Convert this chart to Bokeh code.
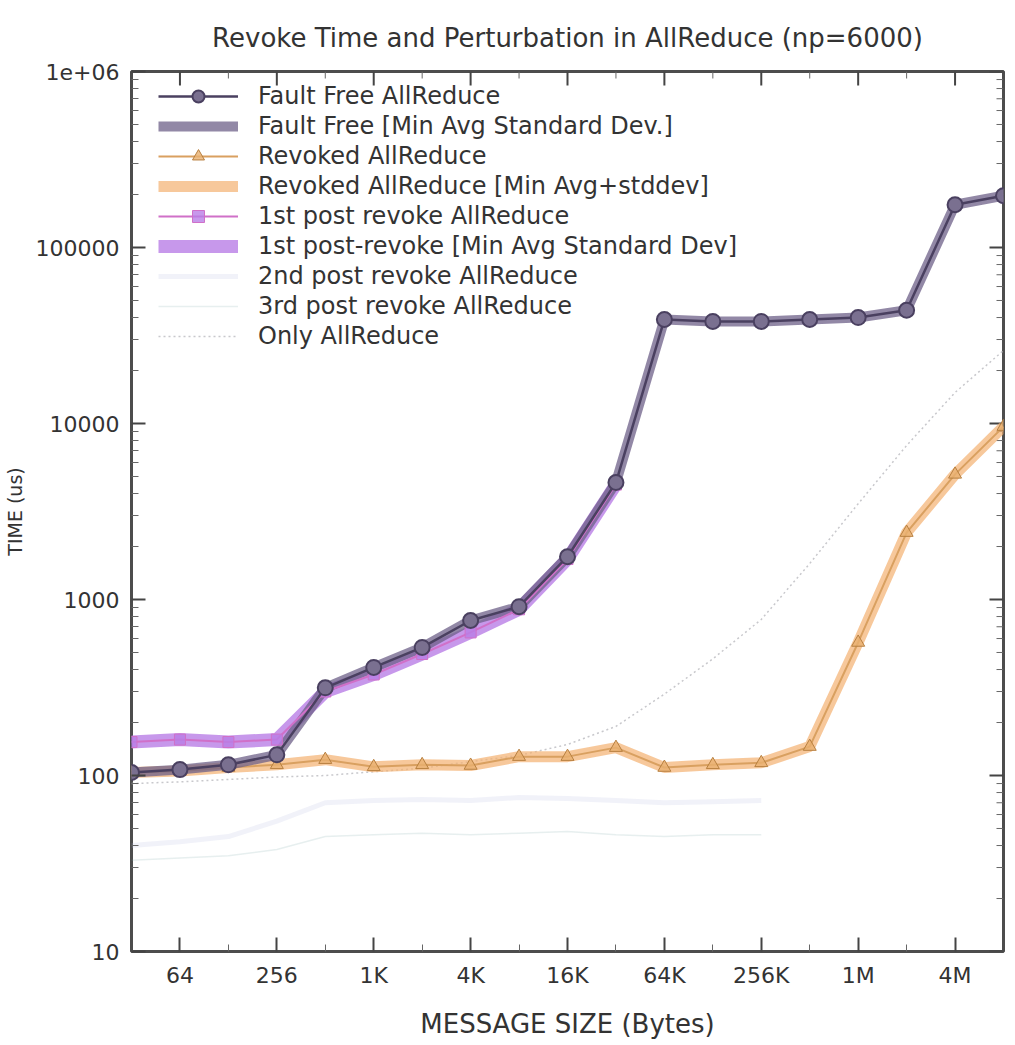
import math
from bokeh.plotting import figure
from bokeh.models import FixedTicker, Legend, LegendItem
from bokeh.embed import file_html
from bokeh.resources import INLINE

# ---------------- data ----------------
sizes = [32, 64, 128, 256, 512, 1024, 2048, 4096, 8192, 16384, 32768, 65536,
         131072, 262144, 524288, 1048576, 2097152, 4194304, 8388608]

fault_free = [104, 108, 115, 131, 315, 411, 534, 760, 910, 1750, 4620, 39000,
              38000, 38000, 39000, 40000, 44000, 175000, 197000]

revoked = [104, 106, 111, 115, 123, 112, 115, 114, 128, 128, 144, 111,
           115, 118, 146, 570, 2400, 5140, 9600]

post1_sizes = [32, 64, 128, 256, 512, 1024, 2048, 4096, 8192, 16384, 32768]
post1 = [155, 160, 155, 160, 300, 375, 490, 650, 880, 1700, 4500]

post2_sizes = [32, 64, 128, 256, 512, 1024, 2048, 4096, 8192, 16384, 32768,
               65536, 131072, 262144]
post2 = [40, 42, 45, 55, 70, 72, 73, 72, 75, 74, 72, 70, 71, 72]
post3 = [33, 34, 35, 38, 45, 46, 47, 46, 47, 48, 46, 45, 46, 46]

only_ar = [90, 92, 95, 98, 100, 105, 110, 120, 130, 150, 190, 290, 460, 770,
           1600, 3500, 7500, 15000, 26000]

x_ticks = [64, 256, 1024, 4096, 16384, 65536, 262144, 1048576, 4194304]
x_labels = ["64", "256", "1K", "4K", "16K", "64K", "256K", "1M", "4M"]
x_minor = [128, 512, 2048, 8192, 32768, 131072, 524288, 2097152]
y_ticks = [10, 100, 1000, 10000, 100000, 1000000]
y_labels = ["10", "100", "1000", "10000", "100000", "1e+06"]

title = "Revoke Time and Perturbation in AllReduce (np=6000)"
legend_labels = [
    "Fault Free AllReduce",
    "Fault Free [Min Avg Standard Dev.]",
    "Revoked AllReduce",
    "Revoked AllReduce [Min Avg+stddev]",
    "1st post revoke AllReduce",
    "1st post-revoke [Min Avg Standard Dev]",
    "2nd post revoke AllReduce",
    "3rd post revoke AllReduce",
    "Only AllReduce",
]

# ---------------- figure ----------------
FONT = "DejaVu Sans"
TXT = "#333333"
X0, X1 = 32, 8388608
Y0, Y1 = 10, 1000000
FW, FH = 872, 880

p = figure(x_axis_type="log", y_axis_type="log",
           x_range=(X0, X1), y_range=(Y0, Y1),
           frame_width=FW, frame_height=FH,
           min_border_left=131, min_border_right=4,
           min_border_top=71, min_border_bottom=84,
           output_backend="svg", toolbar_location=None,
           title=title)
p.title.align = "center"
p.title.text_font = FONT
p.title.text_font_size = "26px"
p.title.text_font_style = "normal"
p.title.text_color = TXT
p.title.offset = 0
p.title.standoff = 38

p.outline_line_color = "#4d4d4d"
p.outline_line_width = 3
p.xgrid.grid_line_color = None
p.ygrid.grid_line_color = None


def style_axis(ax):
    ax.axis_line_color = None
    ax.major_tick_in = 14
    ax.major_tick_out = 0
    ax.minor_tick_in = 7
    ax.minor_tick_out = 0
    ax.major_tick_line_color = "#444444"
    ax.minor_tick_line_color = "#666666"
    ax.major_tick_line_width = 2
    ax.minor_tick_line_width = 1
    ax.major_label_text_font = FONT
    ax.major_label_text_font_size = "22px"
    ax.major_label_text_color = TXT
    ax.axis_label_text_font = FONT
    ax.axis_label_text_font_style = "normal"
    ax.axis_label_text_color = TXT


ymin = [m * 10 ** e for e in range(1, 6) for m in range(2, 10)]
p.xaxis.ticker = FixedTicker(ticks=x_ticks, minor_ticks=x_minor)
p.xaxis.major_label_overrides = dict(zip(x_ticks, x_labels))
p.xaxis.axis_label = "MESSAGE SIZE (Bytes)"
p.xaxis.axis_label_text_font_size = "26px"
p.xaxis.major_label_standoff = 11
p.xaxis.axis_label_standoff = 18
style_axis(p.xaxis[0])

p.yaxis.ticker = FixedTicker(ticks=y_ticks, minor_ticks=ymin)
p.yaxis.major_label_overrides = dict(zip(y_ticks, y_labels))
p.yaxis.axis_label = "TIME (us)"
p.yaxis.axis_label_text_font_size = "19px"
p.yaxis.major_label_standoff = 12
p.yaxis.axis_label_standoff = 7
style_axis(p.yaxis[0])

# mirrored tick marks on the top and right borders
dec_px = FH / math.log10(Y1 / Y0)
dbl_px = FW / math.log2(X1 / X0)
kx_major = 10 ** (14 / dec_px)
kx_minor = 10 ** (7 / dec_px)
ky_major = 2 ** (14 / dbl_px)
ky_minor = 2 ** (7 / dbl_px)
p.segment(x0=x_ticks, x1=x_ticks, y0=[Y1] * len(x_ticks),
          y1=[Y1 / kx_major] * len(x_ticks), line_color="#444444", line_width=2)
p.segment(x0=x_minor, x1=x_minor, y0=[Y1] * len(x_minor),
          y1=[Y1 / kx_minor] * len(x_minor), line_color="#666666", line_width=1)
p.segment(x0=[X1] * len(y_ticks), x1=[X1 / ky_major] * len(y_ticks),
          y0=y_ticks, y1=y_ticks, line_color="#444444", line_width=2)
p.segment(x0=[X1] * len(ymin), x1=[X1 / ky_minor] * len(ymin),
          y0=ymin, y1=ymin, line_color="#666666", line_width=1)

# ---------------- series ----------------
ff_col, ff_band = "#4a4060", "#6e6088"
rv_col, rv_band = "#d9a060", "#f3b070"
p1_col, p1_band = "#d070c8", "#b97ee6"
p2_col, p3_col, only_col = "#b8c0e0", "#88b0b0", "#c8c8cc"

r_only = p.line(sizes, only_ar, line_color=only_col, line_width=1.5,
                line_dash="2 3")
r_p3 = p.line(post2_sizes, post3, line_color=p3_col, line_width=1.5, line_alpha=0.2)
r_p2 = p.line(post2_sizes, post2, line_color=p2_col, line_width=5, line_alpha=0.2)

r_rvb = p.line(sizes, revoked, line_color=rv_band, line_width=11, line_alpha=0.7)
r_rv = p.line(sizes, revoked, line_color=rv_col, line_width=2)
r_rvm = p.scatter(sizes, revoked, marker="triangle", size=13,
                  fill_color="#e8b070", line_color="#b88040", fill_alpha=0.8)

r_p1b = p.line(post1_sizes, post1, line_color=p1_band, line_width=13, line_alpha=0.8)
r_ffb = p.line(sizes, fault_free, line_color=ff_band, line_width=10, line_alpha=0.75)
r_p1 = p.line(post1_sizes, post1, line_color=p1_col, line_width=2)
r_p1m = p.scatter(post1_sizes, post1, marker="square", size=11,
                  fill_color=p1_band, line_color=p1_col, fill_alpha=0.8)

r_ff = p.line(sizes, fault_free, line_color=ff_col, line_width=2.5)
r_ffm = p.scatter(sizes, fault_free, marker="circle", size=15,
                  fill_color="#7a7090", line_color=ff_col, line_width=2)

items = [
    LegendItem(label=legend_labels[0], renderers=[r_ff, r_ffm]),
    LegendItem(label=legend_labels[1], renderers=[r_ffb]),
    LegendItem(label=legend_labels[2], renderers=[r_rv, r_rvm]),
    LegendItem(label=legend_labels[3], renderers=[r_rvb]),
    LegendItem(label=legend_labels[4], renderers=[r_p1, r_p1m]),
    LegendItem(label=legend_labels[5], renderers=[r_p1b]),
    LegendItem(label=legend_labels[6], renderers=[r_p2]),
    LegendItem(label=legend_labels[7], renderers=[r_p3]),
    LegendItem(label=legend_labels[8], renderers=[r_only]),
]
LEG_PAD = 4
LEG_ROW = 30
leg_h = LEG_ROW * len(items) + 2 * LEG_PAD
legend = Legend(items=items, location=(27, FH - 2 - leg_h))
legend.background_fill_alpha = 0
legend.border_line_color = None
legend.label_text_font = FONT
legend.label_text_font_size = "24px"
legend.label_text_color = TXT
legend.glyph_width = 80
legend.glyph_height = LEG_ROW
legend.label_height = LEG_ROW
legend.spacing = 0
legend.padding = LEG_PAD
legend.margin = 0
legend.label_standoff = 20
p.add_layout(legend)

open("out.html", "w").write(file_html(p, INLINE))
